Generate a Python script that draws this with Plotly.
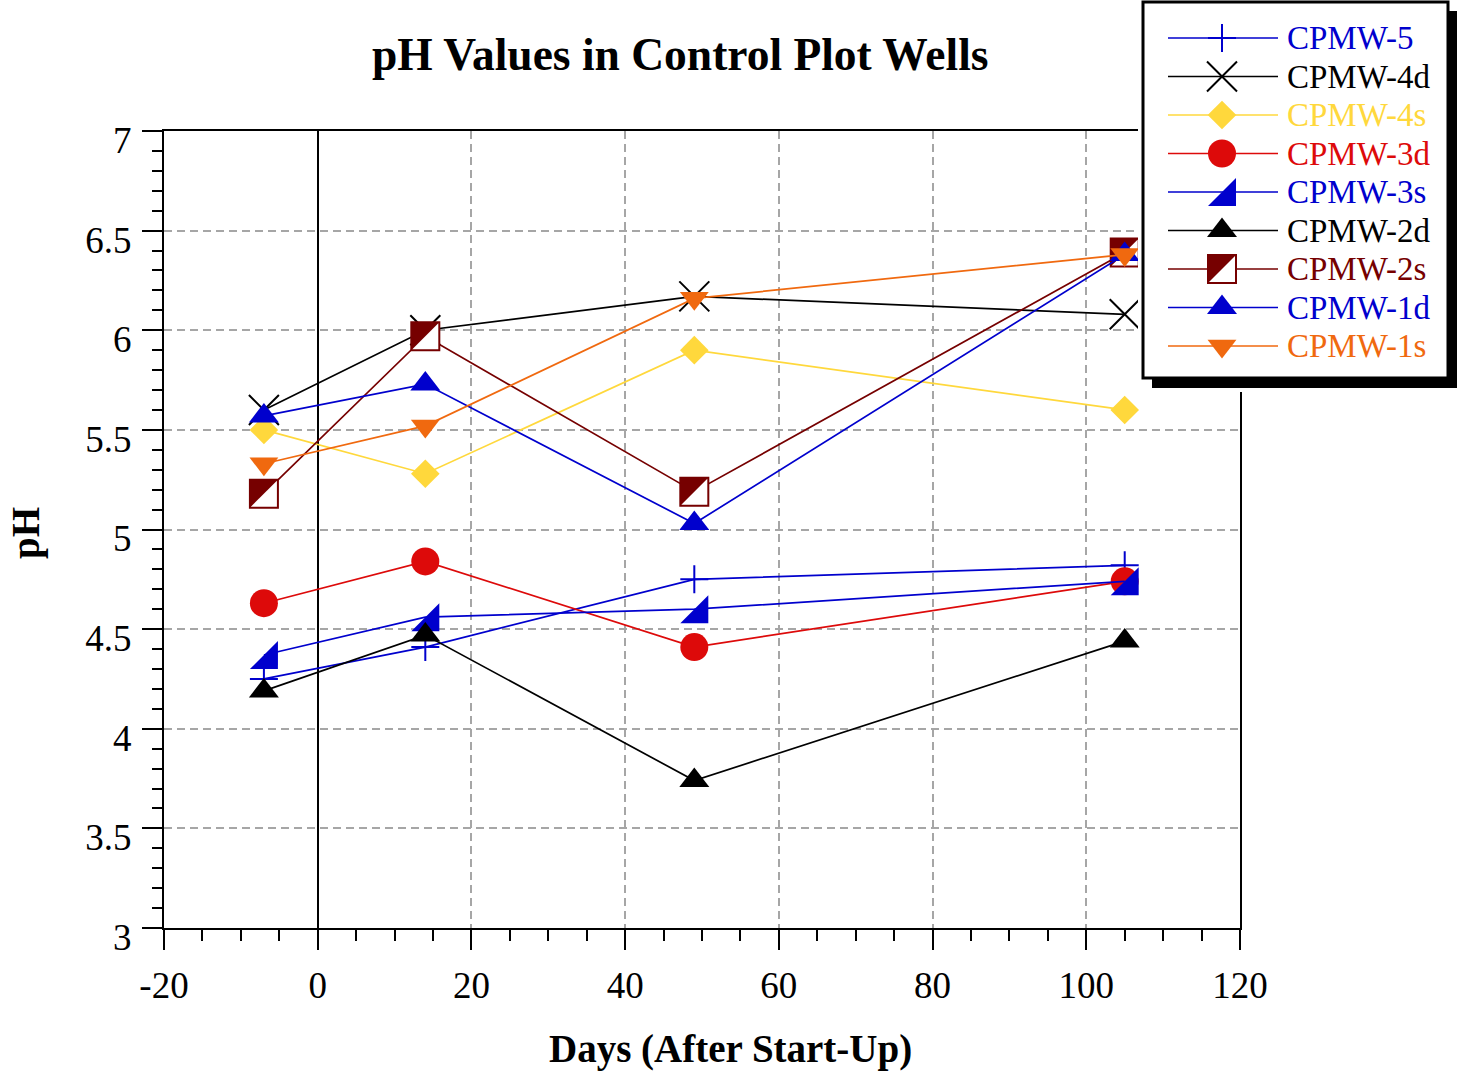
import plotly.graph_objects as go

# ---------------- data ----------------
days = [-7, 14, 49, 105]
well_names = ["CPMW-5", "CPMW-4d", "CPMW-4s", "CPMW-3d", "CPMW-3s",
              "CPMW-2d", "CPMW-2s", "CPMW-1d", "CPMW-1s"]
ph_cpmw_5 = [4.25, 4.41, 4.75, 4.82]
ph_cpmw_4d = [5.60, 6.00, 6.17, 6.08]
ph_cpmw_4s = [5.50, 5.28, 5.90, 5.60]
ph_cpmw_3d = [4.63, 4.84, 4.41, 4.74]
ph_cpmw_3s = [4.37, 4.56, 4.60, 4.74]
ph_cpmw_2d = [4.19, 4.47, 3.74, 4.44]
ph_cpmw_2s = [5.18, 5.97, 5.19, 6.39]
ph_cpmw_1d = [5.57, 5.73, 5.03, 6.38]
ph_cpmw_1s = [5.33, 5.52, 6.16, 6.38]
x_tick_values = [-20, 0, 20, 40, 60, 80, 100, 120]
y_tick_values = [3, 3.5, 4, 4.5, 5, 5.5, 6, 6.5, 7]

title_text = "pH Values in Control Plot Wells"
x_title = "Days (After Start-Up)"
y_title = "pH"

series = dict(zip(well_names, [ph_cpmw_5, ph_cpmw_4d, ph_cpmw_4s, ph_cpmw_3d, ph_cpmw_3s,
                               ph_cpmw_2d, ph_cpmw_2s, ph_cpmw_1d, ph_cpmw_1s]))

# ---------------- styling ----------------
FONT = "Liberation Serif"
BLUE = "#0000CD"
BLACK = "#000000"
YELLOW = "#FFD83C"
RED = "#DD0A0A"
DARKRED = "#760000"
ORANGE = "#F0690F"
GRID = "#A6A6A6"

W, H = 1458, 1078
PL, PR, PT, PB = 164, 1240, 131, 928
X_RANGE = [-20, 120]
Y_RANGE = [3, 7]
ppx = (PR - PL) / (X_RANGE[1] - X_RANGE[0])
ppy = (PB - PT) / (Y_RANGE[1] - Y_RANGE[0])
LW = 1.7

# plotly corner triangles: legs = 1.8 r, right-angle corner at 0.6 r from centre
SQ = 28              # side of the half-filled square (CPMW-2s)
SQ3 = 28             # side of the half square (CPMW-3s)
TRI2 = SQ * 10 / 9   # marker size whose legs equal SQ
TRI3 = SQ3 * 10 / 9
SH2 = SQ / 6         # px shift that puts the right angle on the square corner
SH3 = SQ3 / 6

style = {
    "CPMW-5": dict(color=BLUE, symbol="cross-thin-open", size=20, lw=2),
    "CPMW-4d": dict(color=BLACK, symbol="x-thin-open", size=30, lw=2),
    "CPMW-4s": dict(color=YELLOW, symbol="diamond", size=22, lw=0),
    "CPMW-3d": dict(color=RED, symbol="circle", size=28, lw=0),
    "CPMW-3s": dict(color=BLUE, symbol="triangle-se", size=TRI3, lw=0),
    "CPMW-2d": dict(color=BLACK, symbol="triangle-up", size=26, lw=0),
    "CPMW-2s": dict(color=DARKRED, symbol="square", size=SQ, lw=2),
    "CPMW-1d": dict(color=BLUE, symbol="triangle-up", size=26, lw=0),
    "CPMW-1s": dict(color=ORANGE, symbol="triangle-down", size=25, lw=0),
}


def marker_of(name):
    s = style[name]
    if name == "CPMW-2s":
        return dict(symbol="square", size=s["size"], color="white",
                    line=dict(color=s["color"], width=s["lw"]))
    return dict(symbol=s["symbol"], size=s["size"], color=s["color"],
                line=dict(color=s["color"], width=s["lw"]))


fig = go.Figure()


def add(name, xa, ya, mode, marker=None):
    fig.add_trace(go.Scatter(
        x=days, y=series[name], mode=mode, name=name,
        xaxis=xa, yaxis=ya, showlegend=False, hoverinfo="skip",
        line=dict(color=style[name]["color"], width=LW),
        marker=marker if marker is not None else marker_of(name)))


# layer 1 (main axes)
for nm in ["CPMW-5", "CPMW-4d", "CPMW-4s", "CPMW-3d"]:
    add(nm, "x", "y", "lines+markers")
add("CPMW-3s", "x", "y", "lines")
# layer 2 (shifted right/down): CPMW-3s half square
add("CPMW-3s", "x2", "y2", "markers")
# layer 3
add("CPMW-2d", "x3", "y3", "lines+markers")
add("CPMW-2s", "x3", "y3", "lines+markers")
# layer 4 (shifted left/up): filled half of CPMW-2s
add("CPMW-2s", "x4", "y4", "markers",
    marker=dict(symbol="triangle-nw", size=TRI2, color=DARKRED, line=dict(width=0)))
# layer 5
add("CPMW-1d", "x5", "y5", "lines+markers")
add("CPMW-1s", "x5", "y5", "lines+markers")

# ---------------- custom legend (own subplot, pixel-like units) ----------------
LX0, LX1, LY0, LY1 = 1138, 1458, 0, 392
row_y = [38 + 38.5 * i for i in range(len(well_names))]
seg_x = [1168, 1278]
mk_x = 1222
annotations = []
for i, nm in enumerate(well_names):
    yy = row_y[i]
    c = style[nm]["color"]
    fig.add_trace(go.Scatter(x=seg_x, y=[yy, yy], mode="lines", xaxis="x6", yaxis="y6",
                             showlegend=False, hoverinfo="skip",
                             line=dict(color=c, width=LW)))
    if nm == "CPMW-3s":
        fig.add_trace(go.Scatter(x=[mk_x + SH3], y=[yy + SH3], mode="markers", xaxis="x6",
                                 yaxis="y6", showlegend=False, hoverinfo="skip",
                                 marker=marker_of(nm)))
    else:
        fig.add_trace(go.Scatter(x=[mk_x], y=[yy], mode="markers", xaxis="x6", yaxis="y6",
                                 showlegend=False, hoverinfo="skip", marker=marker_of(nm)))
    if nm == "CPMW-2s":
        fig.add_trace(go.Scatter(x=[mk_x - SH2], y=[yy - SH2], mode="markers", xaxis="x6",
                                 yaxis="y6", showlegend=False, hoverinfo="skip",
                                 marker=dict(symbol="triangle-nw", size=TRI2, color=DARKRED,
                                             line=dict(width=0))))
    annotations.append(dict(x=1285, y=yy, xref="x6", yref="y6", text=nm, showarrow=False,
                            xanchor="left", yanchor="middle",
                            font=dict(family=FONT, size=33, color=c)))

shapes = [
    dict(type="rect", xref="x6", yref="y6", x0=1152, x1=1457, y0=11, y1=388,
         fillcolor="black", line=dict(width=0), layer="below"),
    dict(type="rect", xref="x6", yref="y6", x0=1143, x1=1448, y0=2, y1=378,
         fillcolor="white", line=dict(color="black", width=3), layer="below"),
]

# titles
annotations += [
    dict(x=680 / W, y=1 - 55 / H, xref="paper", yref="paper", text=f"<b>{title_text}</b>",
         showarrow=False, xanchor="center", yanchor="middle",
         font=dict(family=FONT, size=45.5, color="black")),
    dict(x=730 / W, y=1 - 1049 / H, xref="paper", yref="paper", text=f"<b>{x_title}</b>",
         showarrow=False, xanchor="center", yanchor="middle",
         font=dict(family=FONT, size=39, color="black")),
    dict(x=26 / W, y=1 - 533 / H, xref="paper", yref="paper", text=f"<b>{y_title}</b>",
         showarrow=False, xanchor="center", yanchor="middle", textangle=-90,
         font=dict(family=FONT, size=39, color="black")),
]


def fmt(v):
    return ("%g" % v)


x_minor = [v for v in range(-20, 121, 5) if v % 20]
y_minor = [round(3 + 0.1 * k, 1) for k in range(41) if k % 5]

axis_common = dict(
    showline=True, linewidth=2, linecolor="black", mirror=True,
    ticks="outside", ticklen=20, tickwidth=2, tickcolor="black",
    tickfont=dict(family=FONT, size=37, color="black"),
    showgrid=True, gridcolor=GRID, gridwidth=1.5, griddash="8px,5px",
    tickmode="array", fixedrange=True, automargin=False,
)

layout = dict(
    width=W, height=H, margin=dict(l=0, r=0, t=0, b=0, pad=0, autoexpand=False),
    autosize=False,
    paper_bgcolor="white", plot_bgcolor="white", showlegend=False,
    xaxis=dict(domain=[PL / W, PR / W], range=X_RANGE, anchor="y",
               tickvals=x_tick_values, ticktext=[fmt(v) for v in x_tick_values],
               zeroline=True, zerolinecolor="black", zerolinewidth=2,
               ticklabelstandoff=4,
               minor=dict(tickmode="array", tickvals=x_minor, ticks="outside", ticklen=11,
                          tickwidth=2, tickcolor="black", showgrid=False),
               **axis_common),
    yaxis=dict(domain=[1 - PB / H, 1 - PT / H], range=Y_RANGE, anchor="x",
               tickvals=y_tick_values, ticktext=[fmt(v) for v in y_tick_values],
               zeroline=False, ticklabelstandoff=3, ticklabelshift=9,
               minor=dict(tickmode="array", tickvals=y_minor, ticks="outside", ticklen=10,
                          tickwidth=2, tickcolor="black", showgrid=False),
               **axis_common),
    shapes=shapes, annotations=annotations,
)


def overlay(n, dx_px, dy_px):
    du, dv = dx_px / ppx, dy_px / ppy
    layout[f"xaxis{n}"] = dict(overlaying="x", anchor="y", visible=False, fixedrange=True,
                               automargin=False, range=[X_RANGE[0] - du, X_RANGE[1] - du])
    layout[f"yaxis{n}"] = dict(overlaying="y", anchor="x", visible=False, fixedrange=True,
                               automargin=False, range=[Y_RANGE[0] + dv, Y_RANGE[1] + dv])


overlay(2, SH3, SH3)
overlay(3, 0, 0)
overlay(4, -SH2, -SH2)
overlay(5, 0, 0)
layout["xaxis6"] = dict(domain=[LX0 / W, LX1 / W], range=[LX0, LX1], anchor="y6",
                        visible=False, fixedrange=True, automargin=False)
layout["yaxis6"] = dict(domain=[1 - LY1 / H, 1 - LY0 / H], range=[LY1, LY0], anchor="x6",
                        visible=False, fixedrange=True, automargin=False)

fig.update_layout(**layout)
fig.write_html("out.html")
